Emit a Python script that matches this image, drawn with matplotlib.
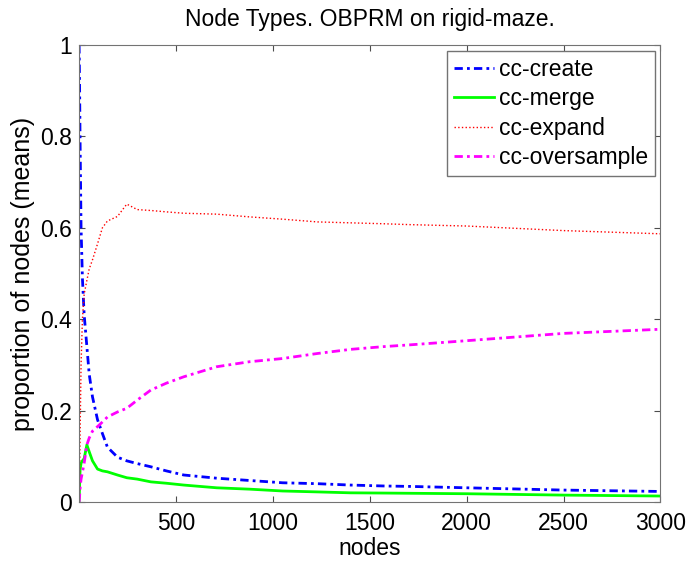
import numpy as np
import matplotlib
matplotlib.use("Agg")
import matplotlib.pyplot as plt

plt.rcParams['font.family'] = ['Liberation Sans', 'DejaVu Sans']

# sample points (nodes)
nodes = [0, 2, 5, 10, 17, 26, 40, 52, 69, 95, 120, 146, 198, 246, 300, 370,
         450, 540, 710, 880, 1050, 1230, 1400, 1570, 1710, 2000, 2500, 3000]

cc_create = [1.0, 0.93, 0.79, 0.60, 0.49, 0.41, 0.34, 0.28, 0.23, 0.18, 0.15,
             0.12, 0.098, 0.09, 0.084, 0.077, 0.068, 0.059, 0.052, 0.047,
             0.042, 0.040, 0.037, 0.035, 0.034, 0.031, 0.026, 0.023]
cc_merge = [0.0, 0.03, 0.07, 0.085, 0.09, 0.095, 0.125, 0.11, 0.09, 0.072,
            0.068, 0.066, 0.059, 0.053, 0.05, 0.044, 0.041, 0.037, 0.031,
            0.028, 0.024, 0.022, 0.020, 0.0195, 0.019, 0.018, 0.015, 0.013]
cc_expand = [0.0, 0.03, 0.15, 0.30, 0.40, 0.455, 0.485, 0.51, 0.53, 0.565,
             0.60, 0.615, 0.625, 0.652, 0.64, 0.638, 0.635, 0.632, 0.63,
             0.624, 0.619, 0.613, 0.611, 0.609, 0.607, 0.604, 0.594, 0.587]
cc_oversample = [0.0, 0.01, 0.03, 0.05, 0.065, 0.085, 0.125, 0.14, 0.155,
                 0.165, 0.175, 0.186, 0.197, 0.205, 0.223, 0.245, 0.26, 0.274,
                 0.296, 0.307, 0.314, 0.325, 0.334, 0.34, 0.344, 0.353, 0.369,
                 0.378]

fig = plt.figure(figsize=(6.88, 5.64), dpi=100)
ax = fig.add_axes([0.115, 0.110, 0.845, 0.810])

ax.plot(nodes, cc_create, color='#0000ff', lw=2, dashes=(3, 1.5, 1, 1.5), label='cc-create')
ax.plot(nodes, cc_merge, color='#00ff00', lw=2, label='cc-merge')
ax.plot(nodes, cc_expand, color='#ff0000', lw=1, ls=':', label='cc-expand')
ax.plot(nodes, cc_oversample, color='#ff00ff', lw=2, dashes=(3, 1.5, 1, 1.5), label='cc-oversample')

ax.set_xlim(0, 3000)
ax.set_ylim(0, 1)
ax.set_xticks([500, 1000, 1500, 2000, 2500, 3000])
ax.set_yticks([0, 0.2, 0.4, 0.6, 0.8, 1])
ax.set_yticklabels(['0', '0.2', '0.4', '0.6', '0.8', '1'])

for s in ax.spines.values():
    s.set_color('0.45')
ax.tick_params(direction='in', length=4.5, top=True, right=True,
               labelsize=16.5, color='0.3')
ax.tick_params(axis='x', pad=7)
ax.tick_params(axis='y', pad=5)

ax.set_title('Node Types. OBPRM on rigid-maze.', fontsize=16.5, pad=14)
ax.set_xlabel('nodes', fontsize=16.5, labelpad=1.5)
ax.set_ylabel('proportion of nodes (means)', fontsize=18, labelpad=4)

leg = ax.legend(loc='upper right', fontsize=16.5, fancybox=False, framealpha=1,
                edgecolor='0.45', handlelength=1.75, handletextpad=0.2,
                labelspacing=0.28, borderaxespad=0.25, borderpad=0.3)
leg.get_frame().set_linewidth(1)

fig.savefig('out.png', dpi=100)
